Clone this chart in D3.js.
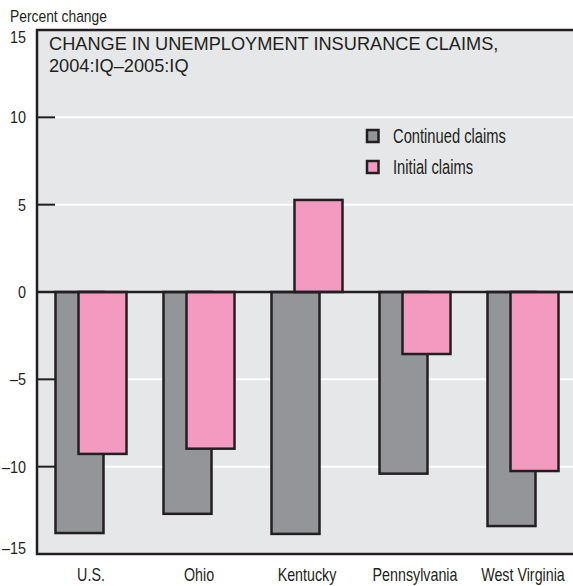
<!DOCTYPE html>
<html>
  <head>
    <title>unemployment claims</title>
    <meta charset="UTF-8" />
    <script src="https://d3js.org/d3.v7.min.js"></script>
    <style>
        body { margin: 0; background: #fff; }
        text { fill: #231f20; }
        .narrow { font-family: "Liberation Sans Narrow", "Liberation Sans", sans-serif; }
    </style>
  </head>
  <body>
    <script>
        var states = ["U.S.", "Ohio", "Kentucky", "Pennsylvania", "West Virginia"];
        var continued = [-13.8, -12.7, -13.85, -10.4, -13.4];
        var initial = [-9.27, -8.97, 5.27, -3.55, -10.25];
        var yTicks = [15, 10, 5, 0, -5, -10, -15];
        var seriesNames = ["Continued claims", "Initial claims"];

        var width = 573, height = 586;
        var margin = {left: 37, top: 30, right: 0, bottom: 32};

        var svg = d3.select("body").append("svg")
            .attr("width", width)
            .attr("height", height);

        var yScale = d3.scaleLinear()
            .domain([-15, 15])
            .range([height - margin.bottom, margin.top]);

        var xScale = d3.scaleBand()
            .domain(states)
            .range([margin.left, margin.left + 540]);

        // condensed text: squeeze horizontally so that the widest label
        // of the group gets the width it has in the original
        function narrowText(sel, x, y, size, fitWidth) {
            sel.attr("class", "narrow").attr("font-size", size);
            var widest = d3.max(sel.nodes(), n => n.getComputedTextLength());
            var k = Math.min(1, fitWidth / widest);
            return sel.attr("transform", (d, i) => "translate(" + x(d, i) + "," + y(d, i) + ") scale(" + k + ",1)");
        }

        // panel background
        svg.append("rect")
            .attr("x", margin.left)
            .attr("y", margin.top)
            .attr("width", width - margin.left)
            .attr("height", yScale(-15) - yScale(15))
            .attr("fill", "#e6e7e8");

        // white grid lines
        svg.selectAll(".grid")
            .data(yTicks.filter(d => d != 0 && Math.abs(d) != 15))
            .enter().append("line")
            .attr("x1", margin.left + 18)
            .attr("x2", width)
            .attr("y1", d => yScale(d))
            .attr("y2", d => yScale(d))
            .attr("stroke", "#fff")
            .attr("stroke-width", 2);

        // tick marks
        svg.selectAll(".tick")
            .data(yTicks.filter(d => Math.abs(d) != 15))
            .enter().append("line")
            .attr("x1", margin.left)
            .attr("x2", margin.left + 18)
            .attr("y1", d => yScale(d))
            .attr("y2", d => yScale(d))
            .attr("stroke", "#231f20")
            .attr("stroke-width", 2);

        var ylab = svg.selectAll(".ylab").data(yTicks).enter().append("text")
            .attr("text-anchor", "end")
            .text(d => d < 0 ? "\u2013" + Math.abs(d) : d);
        narrowText(ylab, () => 26,
            d => Math.min(Math.max(yScale(d) + 6, margin.top + 13), yScale(-15)),
            17, 24);

        var barW = 48, offset = 23;
        var x0 = s => xScale(s) + xScale.bandwidth() / 2 - (barW + offset) / 2;

        // continued claims (gray)
        svg.selectAll(".cont")
            .data(states)
            .enter().append("rect")
            .attr("x", s => x0(s))
            .attr("width", barW)
            .attr("y", (s, i) => yScale(Math.max(0, continued[i])))
            .attr("height", (s, i) => Math.abs(yScale(continued[i]) - yScale(0)))
            .attr("fill", "#939598")
            .attr("stroke", "#231f20")
            .attr("stroke-width", 2.5);

        // initial claims (pink)
        svg.selectAll(".init")
            .data(states)
            .enter().append("rect")
            .attr("x", s => x0(s) + offset)
            .attr("width", barW)
            .attr("y", (s, i) => yScale(Math.max(0, initial[i])))
            .attr("height", (s, i) => Math.abs(yScale(initial[i]) - yScale(0)))
            .attr("fill", "#f49ac1")
            .attr("stroke", "#231f20")
            .attr("stroke-width", 2.5);

        // zero line
        svg.append("line")
            .attr("x1", margin.left).attr("x2", width)
            .attr("y1", yScale(0)).attr("y2", yScale(0))
            .attr("stroke", "#231f20").attr("stroke-width", 2.5);

        // frame: top, left, bottom
        svg.append("path")
            .attr("d", "M" + width + "," + yScale(15) + "H" + margin.left + "V" + yScale(-15) + "H" + width)
            .attr("fill", "none")
            .attr("stroke", "#231f20")
            .attr("stroke-width", 2.5);

        var xlab = svg.selectAll(".xlab").data(states).enter().append("text")
            .attr("text-anchor", "middle")
            .text(s => s);
        narrowText(xlab, s => xScale(s) + xScale.bandwidth() / 2, () => 581, 19, 85);

        narrowText(svg.append("text").text("Percent change"), () => 10, () => 22, 16.5, 97);

        var title = svg.append("text")
            .attr("font-family", "Liberation Sans, Arial, sans-serif")
            .attr("font-size", 18.2);
        title.append("tspan").attr("x", 49).attr("y", 50).text("CHANGE IN UNEMPLOYMENT INSURANCE CLAIMS,");
        title.append("tspan").attr("x", 49).attr("y", 72).text("2004:IQ\u20132005:IQ");

        // legend
        var colors = ["#939598", "#f49ac1"];
        var lg = svg.selectAll(".lg")
            .data(seriesNames)
            .enter().append("g")
            .attr("transform", (d, i) => "translate(367," + (130 + i * 31) + ")");
        lg.append("rect")
            .attr("width", 11.5).attr("height", 12)
            .attr("fill", (d, i) => colors[i])
            .attr("stroke", "#231f20").attr("stroke-width", 2.5);
        narrowText(lg.append("text").text(d => d), () => 26, () => 13, 19.5, 113);
    </script>
  </body>
</html>
